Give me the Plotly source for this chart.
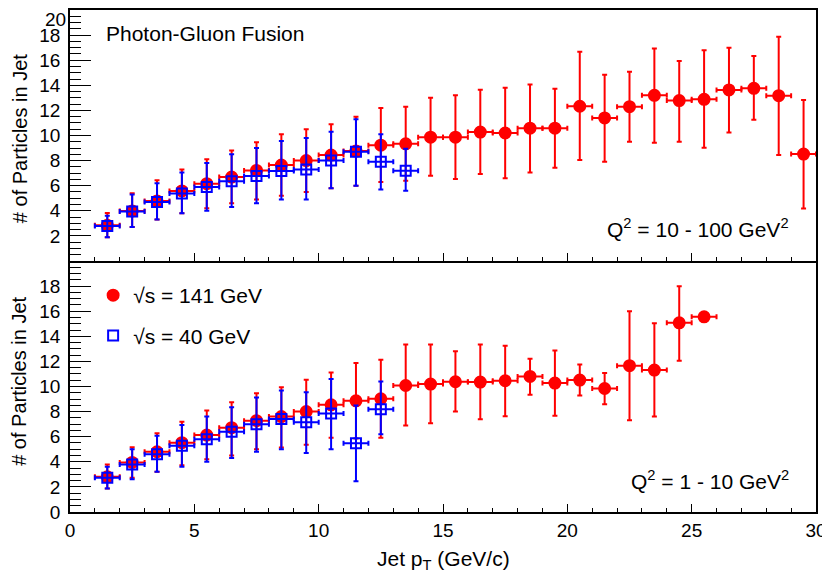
"""Nombre de particules dans les jets en fonction du pT du jet (fusion photon-gluon)."""

import plotly.graph_objects as go

# Couleurs et police
COLOR_141 = "#ff0000"
COLOR_40 = "#0000ff"
COLOR_AXIS = "#000000"
FONT = "Liberation Sans, Arial, Helvetica, sans-serif"

# Q^2 = 10 - 100 GeV^2, sqrt(s) = 141 GeV
pt_hi_141 = [1.5, 2.5, 3.5, 4.5, 5.5, 6.5, 7.5, 8.5, 9.5, 10.5, 11.5, 12.5, 13.5, 14.5,
             15.5, 16.5, 17.5, 18.5, 19.5, 20.5, 21.5, 22.5, 23.5, 24.5, 25.5, 26.5,
             27.5, 28.5, 29.5]
n_hi_141 = [2.85, 3.99, 4.79, 5.58, 6.16, 6.69, 7.22, 7.65, 8.0, 8.44, 8.76, 9.23, 9.34,
            9.87, 9.87, 10.27, 10.2, 10.58, 10.58, 12.33, 11.4, 12.3, 13.2, 12.78, 12.88,
            13.63, 13.76, 13.17, 8.52]
top_hi_141 = [3.83, 5.4, 6.43, 7.3, 8.1, 8.8, 9.47, 10.1, 10.5, 10.9, 11.5, 12.2, 12.3,
              13.0, 13.2, 13.65, 13.8, 14.07, 13.73, 16.67, 14.84, 15.08, 16.93, 15.93,
              16.8, 17.0, 16.33, 17.87, 12.83]
low_hi_141 = [1.9, 2.7, 3.3, 3.8, 4.2, 4.6, 4.9, 5.2, 5.5, 5.8, 6.0, 6.3, 6.4, 6.8, 6.53,
              6.93, 6.6, 7.06, 7.43, 8.04, 7.9, 9.5, 9.42, 9.5, 9.02, 10.24, 11.25, 8.44,
              4.18]

# Q^2 = 10 - 100 GeV^2, sqrt(s) = 40 GeV
pt_hi_40 = [1.5, 2.5, 3.5, 4.5, 5.5, 6.5, 7.5, 8.5, 9.5, 10.5, 11.5, 12.5, 13.5]
n_hi_40 = [2.78, 3.95, 4.7, 5.37, 5.9, 6.35, 6.77, 7.17, 7.3, 8.0, 8.7, 7.9, 7.2]
top_hi_40 = [3.6, 5.3, 6.2, 7.06, 7.8, 8.5, 9.0, 9.56, 9.8, 10.3, 11.3, 10.1, 8.95]
low_hi_40 = [1.9, 2.7, 3.3, 3.8, 4.0, 4.3, 4.6, 4.9, 4.9, 5.8, 6.0, 5.7, 5.6]

# Q^2 = 1 - 10 GeV^2, sqrt(s) = 141 GeV
pt_lo_141 = [1.5, 2.5, 3.5, 4.5, 5.5, 6.5, 7.5, 8.5, 9.5, 10.5, 11.5, 12.5, 13.5, 14.5,
             15.5, 16.5, 17.5, 18.5, 19.5, 20.5, 21.5, 22.5, 23.5, 24.5, 25.5]
n_lo_141 = [2.8, 3.95, 4.8, 5.52, 6.13, 6.72, 7.28, 7.6, 8.0, 8.54, 8.86, 9.02, 10.08,
            10.19, 10.38, 10.35, 10.46, 10.8, 10.27, 10.51, 9.84, 11.66, 11.31, 15.07,
            15.55]
top_lo_141 = [3.79, 5.15, 6.27, 7.2, 8.08, 8.75, 9.47, 9.95, 10.54, 11.12, 11.87, 12.14,
              13.34, 13.34, 12.8, 13.34, 13.25, 12.22, 12.86, 11.76, 11.07, 16.0, 15.04,
              17.98, 15.55]
low_lo_141 = [1.87, 2.72, 3.2, 3.73, 4.2, 4.5, 5.0, 5.13, 5.36, 5.92, 5.86, 5.92, 6.9,
              7.07, 8.0, 7.39, 7.63, 9.34, 7.66, 9.28, 8.59, 7.31, 7.6, 12.06, 15.55]

# Q^2 = 1 - 10 GeV^2, sqrt(s) = 40 GeV
pt_lo_40 = [1.5, 2.5, 3.5, 4.5, 5.5, 6.5, 7.5, 8.5, 9.5, 10.5, 11.5, 12.5]
n_lo_40 = [2.72, 3.79, 4.6, 5.28, 5.79, 6.4, 6.99, 7.42, 7.15, 7.84, 5.47, 8.19]
top_lo_40 = [3.6, 5.0, 6.08, 6.93, 7.6, 8.35, 9.13, 9.68, 9.55, 10.6, 8.48, 10.4]
low_lo_40 = [1.87, 2.6, 3.2, 3.6, 4.0, 4.3, 4.8, 5.0, 4.7, 5.0, 2.46, 6.2]

# Graduations de l'axe y
y_ticks = [0, 2, 4, 6, 8, 10, 12, 14, 16, 18, 20]
y_labels_top = ["", "2", "4", "6", "8", "10", "12", "14", "16", "18", ""]
y_labels_bottom = ["0", "2", "4", "6", "8", "10", "12", "14", "16", "18", ""]
Y_MAX = 20

BIN_HALF_WIDTH = 0.5


def make_trace(pt, n, top, low, color, symbol, size, name, yaxis, showlegend):
    """Crée une série avec barres d'erreur asymétriques."""
    return go.Scatter(
        x=pt,
        y=n,
        mode="markers",
        name=name,
        xaxis="x" if yaxis == "y" else "x2",
        yaxis=yaxis,
        showlegend=showlegend,
        legendgroup=name,
        marker=dict(
            color=color,
            symbol=symbol,
            size=size,
            line=dict(color=color, width=2),
        ),
        error_y=dict(
            type="data",
            symmetric=False,
            array=[t - v for t, v in zip(top, n)],
            arrayminus=[v - b for v, b in zip(n, low)],
            color=color,
            thickness=2,
            width=2.5,
        ),
        error_x=dict(
            type="constant",
            value=BIN_HALF_WIDTH,
            color=color,
            thickness=2,
            width=2.5,
        ),
    )


fig = go.Figure()

# Panneau du bas (Q^2 = 1 - 10), avec la légende
fig.add_trace(make_trace(pt_lo_141, n_lo_141, top_lo_141, low_lo_141, COLOR_141,
                         "circle", 11, "\u221as = 141 GeV", "y", True))
fig.add_trace(make_trace(pt_lo_40, n_lo_40, top_lo_40, low_lo_40, COLOR_40,
                         "square-open", 10, "\u221as = 40 GeV", "y", True))

# Panneau du haut (Q^2 = 10 - 100)
fig.add_trace(make_trace(pt_hi_141, n_hi_141, top_hi_141, low_hi_141, COLOR_141,
                         "circle", 11, "141 top", "y2", False))
fig.add_trace(make_trace(pt_hi_40, n_hi_40, top_hi_40, low_hi_40, COLOR_40,
                         "square-open", 10, "40 top", "y2", False))

x_common = dict(
    range=[0, 30],
    tickmode="linear",
    tick0=0,
    dtick=5,
    ticks="inside",
    ticklen=8,
    tickwidth=1,
    tickcolor=COLOR_AXIS,
    minor=dict(ticks="inside", ticklen=4, dtick=1, tick0=0, tickcolor=COLOR_AXIS),
    showline=True,
    linecolor=COLOR_AXIS,
    linewidth=1.5,
    showgrid=False,
    zeroline=False,
    automargin=False,
    ticklabeloverflow="allow",
)

y_common = dict(
    range=[0, Y_MAX],
    tickmode="array",
    tickvals=y_ticks,
    ticks="inside",
    ticklen=21,
    tickwidth=1,
    tickcolor=COLOR_AXIS,
    minor=dict(ticks="inside", ticklen=11, tickmode="linear", dtick=0.5, tick0=0,
               tickcolor=COLOR_AXIS),
    showline=True,
    linecolor=COLOR_AXIS,
    linewidth=1.5,
    mirror=True,
    showgrid=False,
    zeroline=False,
    ticklabelstandoff=4,
    automargin=False,
    ticklabeloverflow="allow",
)

# La page ajoute une marge de 8 px : la figure fait 822 x 574
fig.update_layout(
    width=822,
    height=574,
    margin=dict(l=62, r=14, t=2, b=70),
    paper_bgcolor="white",
    plot_bgcolor="white",
    font=dict(family=FONT, size=19, color=COLOR_AXIS),
    xaxis=dict(x_common, anchor="y", domain=[0, 1], mirror=False),
    xaxis2=dict(x_common, anchor="y2", domain=[0, 1], matches="x", mirror=True,
                showticklabels=False),
    yaxis=dict(y_common, domain=[0, 0.5], anchor="x", ticktext=y_labels_bottom),
    yaxis2=dict(y_common, domain=[0.5, 1], anchor="x2", ticktext=y_labels_top),
    legend=dict(
        x=0.031,
        y=0.472,
        xanchor="left",
        yanchor="top",
        font=dict(size=21),
        bgcolor="rgba(0,0,0,0)",
        tracegroupgap=10,
        itemwidth=30,
    ),
    annotations=[
        # libellé "20" du haut, descendu pour ne pas être coupé par le bord
        dict(text=str(Y_MAX), x=0, y=Y_MAX, xref="paper", yref="y2", xanchor="right",
             yanchor="top", xshift=-3, yshift=2, showarrow=False, borderpad=0,
             font=dict(size=19)),
        dict(text="Photon-Gluon Fusion", x=0.045, y=0.954, xref="paper", yref="paper",
             xanchor="left", yanchor="middle", showarrow=False, font=dict(size=21)),
        dict(text="Q<sup>2</sup> = 10 - 100 GeV<sup>2</sup>", x=0.9665, y=0.5655,
             xref="paper", yref="paper", xanchor="right", yanchor="middle",
             showarrow=False, font=dict(size=21)),
        dict(text="Q<sup>2</sup> = 1 - 10 GeV<sup>2</sup>", x=0.9665, y=0.063,
             xref="paper", yref="paper", xanchor="right", yanchor="middle",
             showarrow=False, font=dict(size=21)),
        dict(text="Jet p<sub>T</sub> (GeV/c)", x=0.5, y=0, yshift=-48, xref="paper",
             yref="paper", xanchor="center", yanchor="middle", showarrow=False,
             font=dict(size=21)),
        dict(text="# of Particles in Jet", x=-0.0675, y=0.744, xref="paper", yref="paper",
             xanchor="center", yanchor="middle", textangle=-90, showarrow=False,
             font=dict(size=20), borderpad=0),
        dict(text="# of Particles in Jet", x=-0.0675, y=0.2605, xref="paper", yref="paper",
             xanchor="center", yanchor="middle", textangle=-90, showarrow=False,
             font=dict(size=20), borderpad=0),
    ],
)

fig.write_html("out.html")
